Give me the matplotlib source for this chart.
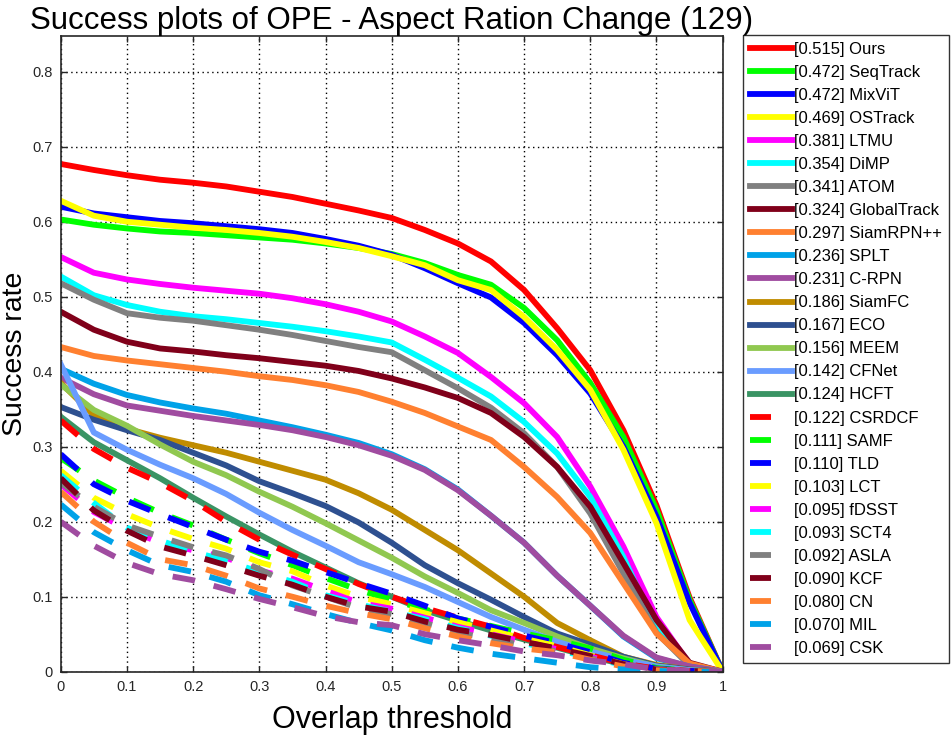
import numpy as np
import matplotlib
matplotlib.use("Agg")
import matplotlib.pyplot as plt
from matplotlib.lines import Line2D

plt.rcParams['font.family'] = ['Liberation Sans', 'DejaVu Sans']

thresholds = np.round(np.arange(0, 1.0001, 0.05), 2)

names = ["Ours", "SeqTrack", "MixViT", "OSTrack", "LTMU", "DiMP", "ATOM", "GlobalTrack",
         "SiamRPN++", "SPLT", "C-RPN", "SiamFC", "ECO", "MEEM", "CFNet", "HCFT",
         "CSRDCF", "SAMF", "TLD", "LCT", "fDSST", "SCT4", "ASLA", "KCF", "CN", "MIL", "CSK"]
auc = [0.515, 0.472, 0.472, 0.469, 0.381, 0.354, 0.341, 0.324, 0.297, 0.236, 0.231, 0.186,
       0.167, 0.156, 0.142, 0.124, 0.122, 0.111, 0.110, 0.103, 0.095, 0.093, 0.092, 0.090,
       0.080, 0.070, 0.069]

ours        = [0.677, 0.669, 0.662, 0.656, 0.652, 0.647, 0.640, 0.633, 0.624, 0.615, 0.605, 0.589, 0.571, 0.547, 0.509, 0.458, 0.402, 0.322, 0.222, 0.099, 0.0]
seqtrack    = [0.603, 0.596, 0.591, 0.587, 0.585, 0.582, 0.579, 0.576, 0.571, 0.565, 0.557, 0.545, 0.529, 0.516, 0.485, 0.442, 0.385, 0.313, 0.216, 0.096, 0.0]
mixvit      = [0.620, 0.611, 0.606, 0.601, 0.598, 0.594, 0.590, 0.585, 0.577, 0.568, 0.556, 0.538, 0.518, 0.499, 0.465, 0.422, 0.371, 0.300, 0.207, 0.092, 0.0]
ostrack     = [0.628, 0.608, 0.600, 0.596, 0.592, 0.589, 0.585, 0.580, 0.573, 0.565, 0.554, 0.542, 0.522, 0.509, 0.473, 0.429, 0.376, 0.296, 0.198, 0.069, 0.0]
ltmu        = [0.553, 0.532, 0.523, 0.517, 0.512, 0.508, 0.504, 0.498, 0.490, 0.480, 0.467, 0.447, 0.425, 0.393, 0.358, 0.313, 0.247, 0.167, 0.073, 0.010, 0.0]
dimp        = [0.527, 0.502, 0.489, 0.480, 0.474, 0.470, 0.465, 0.460, 0.454, 0.447, 0.439, 0.416, 0.392, 0.367, 0.333, 0.291, 0.233, 0.153, 0.056, 0.008, 0.0]
atom        = [0.518, 0.496, 0.478, 0.472, 0.468, 0.462, 0.456, 0.449, 0.441, 0.433, 0.426, 0.402, 0.378, 0.352, 0.318, 0.273, 0.211, 0.131, 0.052, 0.008, 0.0]
globaltrack = [0.480, 0.456, 0.440, 0.431, 0.427, 0.422, 0.418, 0.413, 0.408, 0.401, 0.391, 0.379, 0.365, 0.345, 0.313, 0.273, 0.220, 0.145, 0.069, 0.012, 0.0]
siamrpnpp   = [0.433, 0.421, 0.415, 0.410, 0.405, 0.400, 0.394, 0.389, 0.382, 0.373, 0.360, 0.345, 0.327, 0.309, 0.273, 0.233, 0.185, 0.118, 0.051, 0.011, 0.0]
splt        = [0.404, 0.384, 0.369, 0.359, 0.351, 0.344, 0.335, 0.326, 0.316, 0.305, 0.290, 0.270, 0.243, 0.208, 0.172, 0.128, 0.088, 0.047, 0.018, 0.007, 0.0]
crpn        = [0.392, 0.370, 0.355, 0.348, 0.341, 0.335, 0.329, 0.322, 0.313, 0.302, 0.288, 0.269, 0.242, 0.208, 0.172, 0.128, 0.088, 0.048, 0.019, 0.007, 0.0]
siamfc      = [0.385, 0.342, 0.324, 0.312, 0.302, 0.292, 0.280, 0.268, 0.256, 0.238, 0.216, 0.189, 0.162, 0.131, 0.100, 0.065, 0.042, 0.020, 0.009, 0.003, 0.0]
eco         = [0.353, 0.336, 0.322, 0.309, 0.292, 0.275, 0.254, 0.238, 0.221, 0.199, 0.172, 0.142, 0.118, 0.096, 0.073, 0.051, 0.036, 0.020, 0.008, 0.003, 0.0]
meem        = [0.383, 0.349, 0.328, 0.303, 0.280, 0.262, 0.240, 0.220, 0.198, 0.175, 0.152, 0.127, 0.105, 0.082, 0.065, 0.047, 0.031, 0.018, 0.007, 0.002, 0.0]
cfnet       = [0.410, 0.319, 0.296, 0.276, 0.258, 0.237, 0.212, 0.189, 0.168, 0.146, 0.130, 0.113, 0.093, 0.073, 0.056, 0.040, 0.027, 0.016, 0.007, 0.002, 0.0]
hcft        = [0.340, 0.306, 0.282, 0.258, 0.232, 0.207, 0.183, 0.160, 0.139, 0.118, 0.100, 0.082, 0.068, 0.055, 0.043, 0.032, 0.020, 0.010, 0.004, 0.001, 0.0]
csrdcf      = [0.335, 0.297, 0.272, 0.252, 0.228, 0.200, 0.176, 0.156, 0.137, 0.117, 0.100, 0.085, 0.072, 0.060, 0.045, 0.033, 0.022, 0.011, 0.004, 0.001, 0.0]
samf        = [0.285, 0.255, 0.232, 0.212, 0.195, 0.176, 0.158, 0.142, 0.125, 0.109, 0.096, 0.083, 0.071, 0.061, 0.051, 0.042, 0.031, 0.016, 0.005, 0.001, 0.0]
tld         = [0.290, 0.250, 0.228, 0.210, 0.193, 0.176, 0.160, 0.148, 0.133, 0.118, 0.104, 0.088, 0.071, 0.060, 0.048, 0.038, 0.026, 0.012, 0.004, 0.001, 0.0]
lct         = [0.268, 0.232, 0.210, 0.192, 0.177, 0.164, 0.146, 0.134, 0.115, 0.100, 0.090, 0.078, 0.066, 0.055, 0.044, 0.034, 0.022, 0.010, 0.003, 0.001, 0.0]
fdsst       = [0.250, 0.213, 0.190, 0.172, 0.162, 0.152, 0.135, 0.124, 0.108, 0.092, 0.084, 0.072, 0.060, 0.050, 0.040, 0.030, 0.020, 0.009, 0.003, 0.001, 0.0]
sct4        = [0.262, 0.225, 0.192, 0.175, 0.160, 0.148, 0.133, 0.120, 0.102, 0.090, 0.080, 0.070, 0.058, 0.048, 0.038, 0.029, 0.019, 0.009, 0.003, 0.001, 0.0]
asla        = [0.252, 0.220, 0.195, 0.180, 0.166, 0.155, 0.137, 0.115, 0.100, 0.085, 0.077, 0.065, 0.052, 0.044, 0.035, 0.027, 0.018, 0.008, 0.003, 0.001, 0.0]
kcf         = [0.258, 0.215, 0.188, 0.167, 0.155, 0.142, 0.128, 0.116, 0.100, 0.087, 0.080, 0.067, 0.056, 0.049, 0.040, 0.031, 0.021, 0.010, 0.003, 0.001, 0.0]
cn          = [0.240, 0.200, 0.172, 0.150, 0.142, 0.128, 0.111, 0.100, 0.088, 0.078, 0.070, 0.058, 0.047, 0.038, 0.031, 0.026, 0.016, 0.007, 0.002, 0.001, 0.0]
mil         = [0.223, 0.186, 0.162, 0.142, 0.133, 0.120, 0.102, 0.090, 0.077, 0.065, 0.055, 0.042, 0.032, 0.024, 0.018, 0.012, 0.006, 0.003, 0.001, 0.0, 0.0]
csk         = [0.200, 0.168, 0.145, 0.130, 0.122, 0.110, 0.097, 0.086, 0.074, 0.066, 0.062, 0.050, 0.042, 0.035, 0.027, 0.022, 0.015, 0.010, 0.003, 0.001, 0.0]

series = [ours, seqtrack, mixvit, ostrack, ltmu, dimp, atom, globaltrack, siamrpnpp, splt,
          crpn, siamfc, eco, meem, cfnet, hcft, csrdcf, samf, tld, lct, fdsst, sct4, asla,
          kcf, cn, mil, csk]

colors = ["#ff0000", "#00ff00", "#0000ff", "#ffff00", "#ff00ff", "#00ffff", "#808080", "#80001a",
          "#ff8030", "#00a2e8", "#a04ca0", "#c08c00", "#2e5090", "#90c850", "#6a9cff", "#3a9464",
          "#ff0000", "#00ff00", "#0000ff", "#ffff00", "#ff00ff", "#00ffff", "#808080", "#80001a",
          "#ff8030", "#00a2e8", "#a04ca0"]
n_solid = 16

fig = plt.figure(figsize=(9.52, 7.35), dpi=100)
ax = fig.add_axes([0.0638, 0.0861, 0.6953, 0.8653])

LW = 4.2
handles = []
for i, (name, a, ys, c) in enumerate(zip(names, auc, series, colors)):
    label = "[%.3f] %s" % (a, name)
    if i < n_solid:
        ax.plot(thresholds, ys, color=c, lw=LW, solid_joinstyle='round')
        handles.append(Line2D([], [], color=c, lw=LW, label=label))
    else:
        ax.plot(thresholds, ys, color=c, lw=LW, dashes=(3.9, 3.3), dash_capstyle='butt')
        handles.append(Line2D([], [], color=c, lw=LW, dashes=(3.6, 20), dash_capstyle='butt', label=label))

ax.set_xlim(0, 1)
ax.set_ylim(0, 0.848)
ax.set_xticks(np.arange(0, 1.01, 0.1))
ax.set_xticklabels(["0", "0.1", "0.2", "0.3", "0.4", "0.5", "0.6", "0.7", "0.8", "0.9", "1"])
ax.set_yticks(np.arange(0, 0.81, 0.1))
ax.set_yticklabels(["0", "0.1", "0.2", "0.3", "0.4", "0.5", "0.6", "0.7", "0.8"])
ax.tick_params(axis='both', labelsize=10.5, colors='#262626', direction='in', length=4,
               width=1.0, top=True, right=True, pad=6)
ax.grid(True, color='black', linestyle=(0, (1, 2.5)), linewidth=1.0)
for sp in ax.spines.values():
    sp.set_color('#262626')
    sp.set_linewidth(1.2)

ax.set_title("Success plots of OPE - Aspect Ration Change (129)", fontsize=22.5, pad=5)
ax.set_xlabel("Overlap threshold", fontsize=22, labelpad=8)
ax.set_ylabel("Success rate", fontsize=20.5, labelpad=3)

leg = fig.legend(handles=handles, loc='upper left', bbox_to_anchor=(0.7805, 0.9524),
                 fontsize=12.0, handlelength=2.5, handletextpad=0.16, labelspacing=0.482,
                 borderpad=0.42, borderaxespad=0, frameon=True, fancybox=False)
leg.get_frame().set_edgecolor('black')
leg.get_frame().set_linewidth(1.0)

fig.savefig("out.png", dpi=100)
